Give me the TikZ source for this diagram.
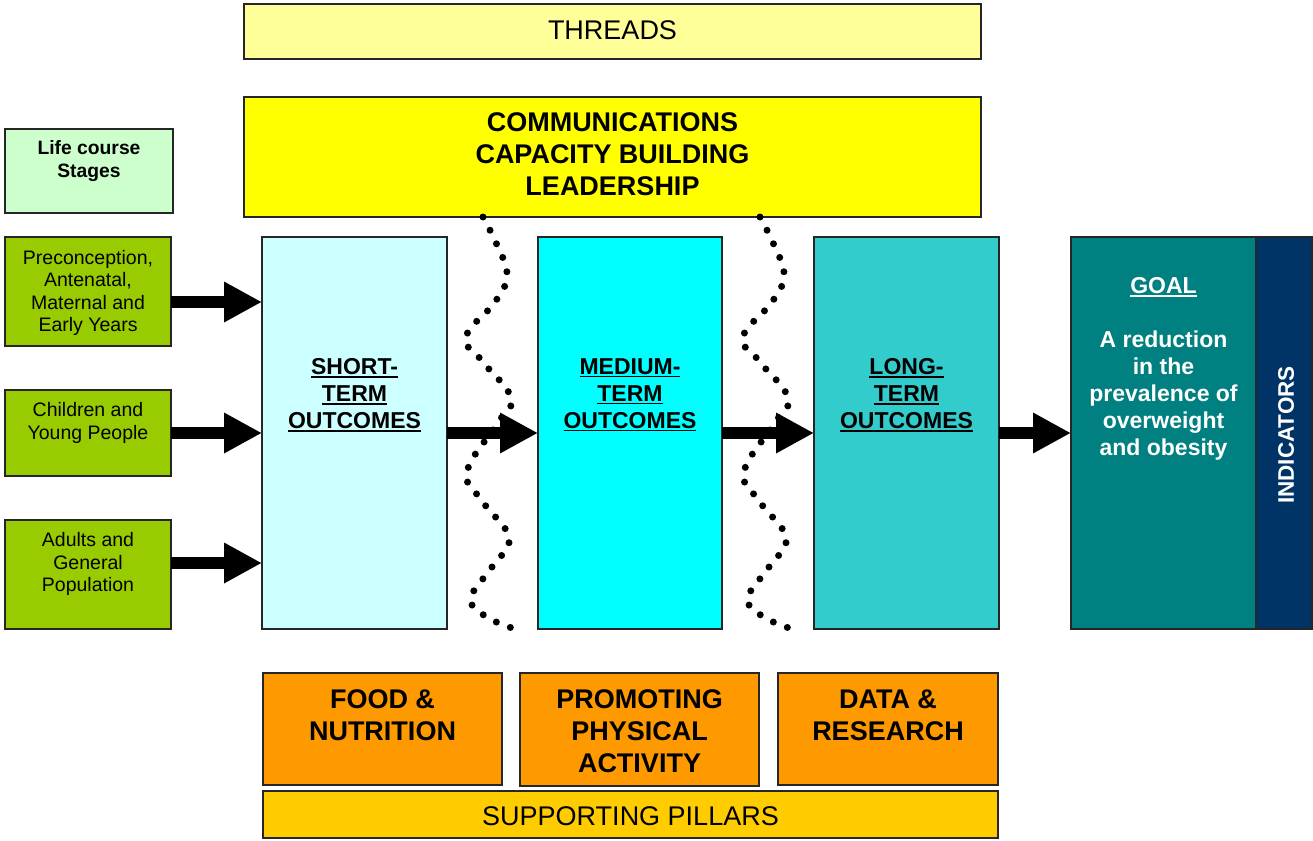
\documentclass[tikz,border=0pt]{standalone}
\usepackage{fontspec}
\setmainfont{Liberation Sans}
\usetikzlibrary{arrows.meta}
\newcommand\myul[1]{\setbox0\hbox{#1}\rlap{\rule[-3pt]{\wd0}{1.8pt}}\box0}
\definecolor{cthreads}{HTML}{FFFF99}
\definecolor{ccomms}{HTML}{FFFF00}
\definecolor{clife}{HTML}{CCFFCC}
\definecolor{cgreen}{HTML}{99CC00}
\definecolor{cshort}{HTML}{CCFFFF}
\definecolor{cmed}{HTML}{00FFFF}
\definecolor{clong}{HTML}{33CCCC}
\definecolor{cgoal}{HTML}{008080}
\definecolor{cind}{HTML}{003366}
\definecolor{cpillar}{HTML}{FF9900}
\definecolor{csupport}{HTML}{FFCC00}
\begin{document}
\begin{tikzpicture}[x=1pt,y=-1pt,
  box/.style={draw=black!85, line width=1.3pt, inner sep=0pt, outer sep=0pt, anchor=north west},
  bigarrow/.style={line width=12pt, -{Triangle[length=38pt,width=38pt]}},
  wave/.style={line width=7pt, line cap=round, dash pattern=on 0pt off 15pt},
  big/.style={align=center, font=\fontsize{27}{32}\selectfont},
  bigb/.style={align=center, font=\bfseries\fontsize{27}{32}\selectfont},
  midb/.style={align=center, font=\bfseries\fontsize{23}{27}\selectfont},
  small/.style={align=center, font=\fontsize{19.5}{22.5}\selectfont},
  smallb/.style={align=center, font=\bfseries\fontsize{19.3}{23}\selectfont}]
\useasboundingbox (0,0) rectangle (1313,840);

% top bars
\node[box, fill=cthreads, minimum width=737pt, minimum height=55pt] (threads) at (244,4) {};
\node[big] (threadst) at (612.5,30) {THREADS};
\node[box, fill=ccomms, minimum width=737pt, minimum height=120pt] (comms) at (244,97) {};
\node[bigb] (commst) at (612.5,154.5) {COMMUNICATIONS\\CAPACITY BUILDING\\LEADERSHIP};

% life course
\node[box, fill=clife, minimum width=168pt, minimum height=84pt] (life) at (5,129) {};
\node[smallb] (lifet) at (89,161.5) {Life course\\Stages};
\node[box, fill=cgreen, minimum width=166pt, minimum height=109pt] (g1) at (5,237) {};
\node[small] (g1t) at (88,293) {Preconception,\\Antenatal,\\Maternal and\\Early Years};
\node[box, fill=cgreen, minimum width=166pt, minimum height=86pt] (g2) at (5,390) {};
\node[small] (g2t) at (88,423) {Children and\\Young People};
\node[box, fill=cgreen, minimum width=166pt, minimum height=109pt] (g3) at (5,520) {};
\node[small] (g3t) at (88,564) {Adults and\\General\\Population};

% outcome columns
\node[box, fill=cshort, minimum width=185pt, minimum height=392pt] (short) at (262,237) {};
\node[midb] (shortt) at (354.5,395) {\myul{SHORT-}\\\myul{TERM}\\\myul{OUTCOMES}};
\node[box, fill=cmed, minimum width=184pt, minimum height=392pt] (medium) at (538,237) {};
\node[midb] (mediumt) at (630,395) {\myul{MEDIUM-}\\\myul{TERM}\\\myul{OUTCOMES}};
\node[box, fill=clong, minimum width=185pt, minimum height=392pt] (long) at (814,237) {};
\node[midb] (longt) at (906.5,395) {\myul{LONG-}\\\myul{TERM}\\\myul{OUTCOMES}};
\node[box, fill=cgoal, minimum width=185pt, minimum height=392pt] (goal) at (1071,237) {};
\node[midb, text=white] (goalt) at (1163.5,369) {\myul{GOAL}\\[27pt]A reduction\\in the\\prevalence of\\overweight\\and obesity};
\node[box, fill=cind, minimum width=56pt, minimum height=392pt] (ind) at (1256,237) {};
\node[rotate=90, text=white, font=\bfseries\fontsize{22.5}{27}\selectfont] (indt) at (1286,435) {INDICATORS};

% pillars
\node[box, fill=cpillar, minimum width=239pt, minimum height=112pt] (food) at (263,673) {};
\node[bigb] (foodt) at (382.5,715.5) {FOOD \&\\NUTRITION};
\node[box, fill=cpillar, minimum width=239pt, minimum height=113pt] (prom) at (520,673) {};
\node[bigb] (promt) at (639.5,731.5) {PROMOTING\\PHYSICAL\\ACTIVITY};
\node[box, fill=cpillar, minimum width=220pt, minimum height=112pt] (data) at (778,673) {};
\node[bigb] (datat) at (888,715.5) {DATA \&\\RESEARCH};
\node[box, fill=csupport, minimum width=735pt, minimum height=47pt] (support) at (263,791) {};
\node[big] (supportt) at (630.5,816) {SUPPORTING PILLARS};

% waves
\foreach \dx in {0,277}{
\begin{scope}[xshift=\dx pt]
\draw[wave] plot[smooth, tension=0.7] coordinates {(483,217) (497,245) (507,275) (495,302) (466,337) (483,362) (511,398) (497,424) (467,472) (483,502) (509,538) (492,567) (471,598) (485,616) (512,628)};
\end{scope}}

% arrows
\draw[bigarrow] ([yshift=-10.5pt]g1.east) -- ([yshift=-10.5pt]g1.east -| short.west);
\draw[bigarrow] (g2.east) -- (g2.east -| short.west);
\draw[bigarrow] ([yshift=11.5pt]g3.east) -- ([yshift=11.5pt]g3.east -| short.west);
\draw[bigarrow] (short.east) -- (medium.west);
\draw[bigarrow] (medium.east) -- (long.west);
\draw[bigarrow] (long.east) -- (goal.west);
\end{tikzpicture}
\end{document}
